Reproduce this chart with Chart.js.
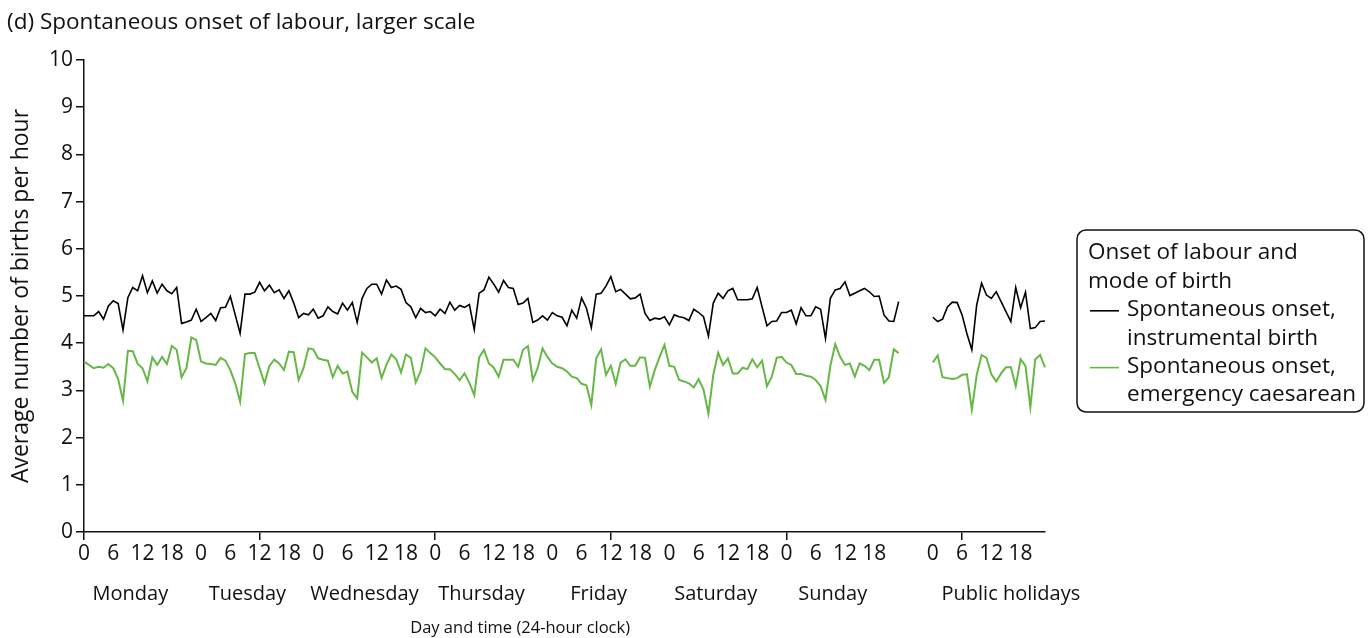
<!DOCTYPE html>
<html><head><meta charset="utf-8">
<script src="https://cdn.jsdelivr.net/npm/chart.js@4"></script>
<style>html,body{margin:0;padding:0;background:#fff}#wrap{width:1368px;height:638px;position:relative}</style>
</head><body><div id="wrap"><canvas id="c"></canvas></div>
<script>
const chartTitle = '(d) Spontaneous onset of labour, larger scale';
const yTitle = 'Average number of births per hour';
const xTitle = 'Day and time (24-hour clock)';
const dayNames = ['Monday','Tuesday','Wednesday','Thursday','Friday','Saturday','Sunday'];
const holidayName = 'Public holidays';
const legendTitle = ['Onset of labour and','mode of birth'];
const seriesNames = [['Spontaneous onset,','instrumental birth'],['Spontaneous onset,','emergency caesarean']];
const gapHours = 6;

const instrumentalMon = [4.58,4.58,4.58,4.67,4.51,4.79,4.90,4.84,4.28,4.97,5.18,5.11,5.43,5.07,5.32,5.06,5.25,5.11,5.05,5.18,4.42,4.45,4.49,4.72];
const instrumentalTue = [4.46,4.54,4.63,4.48,4.75,4.76,4.99,4.60,4.21,5.04,5.04,5.08,5.29,5.11,5.23,5.07,5.13,4.95,5.11,4.85,4.54,4.63,4.60,4.72];
const instrumentalWed = [4.53,4.58,4.77,4.67,4.62,4.85,4.70,4.86,4.44,4.95,5.16,5.25,5.25,5.04,5.34,5.18,5.21,5.14,4.86,4.77,4.54,4.74,4.65,4.67];
const instrumentalThu = [4.58,4.72,4.63,4.87,4.70,4.80,4.76,4.82,4.29,5.06,5.13,5.40,5.25,5.08,5.33,5.18,5.16,4.82,4.85,4.95,4.44,4.49,4.58,4.49];
const instrumentalFri = [4.65,4.58,4.55,4.37,4.70,4.53,4.96,4.74,4.33,5.04,5.06,5.21,5.41,5.09,5.14,5.04,4.94,4.96,5.04,4.63,4.48,4.53,4.51,4.56];
const instrumentalSat = [4.39,4.60,4.56,4.54,4.48,4.72,4.65,4.56,4.15,4.85,5.06,4.95,5.11,5.16,4.92,4.92,4.92,4.94,5.18,4.77,4.37,4.46,4.47,4.65];
const instrumentalSun = [4.65,4.70,4.41,4.75,4.58,4.58,4.77,4.72,4.10,4.95,5.13,5.16,5.30,5.01,5.06,5.11,5.16,5.09,4.99,5.00,4.60,4.47,4.46,4.88];
const instrumentalHol = [4.55,4.46,4.51,4.77,4.87,4.86,4.60,4.20,3.86,4.81,5.27,5.02,4.95,5.09,4.88,4.67,4.46,5.18,4.75,5.08,4.31,4.33,4.46,4.47];

const caesareanMon = [3.61,3.54,3.47,3.50,3.48,3.56,3.47,3.24,2.78,3.84,3.83,3.56,3.47,3.19,3.70,3.54,3.71,3.56,3.94,3.86,3.28,3.47,4.12,4.07];
const caesareanTue = [3.61,3.57,3.56,3.54,3.69,3.63,3.43,3.15,2.76,3.77,3.79,3.79,3.47,3.15,3.52,3.65,3.57,3.43,3.82,3.81,3.22,3.47,3.89,3.87];
const caesareanWed = [3.68,3.65,3.63,3.28,3.52,3.36,3.40,2.97,2.83,3.80,3.70,3.59,3.68,3.26,3.54,3.76,3.66,3.38,3.76,3.69,3.17,3.40,3.89,3.79];
const caesareanThu = [3.70,3.57,3.45,3.45,3.35,3.22,3.36,3.16,2.90,3.70,3.86,3.57,3.48,3.29,3.65,3.65,3.65,3.50,3.86,3.94,3.22,3.47,3.89,3.71];
const caesareanFri = [3.57,3.50,3.47,3.40,3.29,3.26,3.14,3.11,2.69,3.68,3.87,3.33,3.52,3.14,3.59,3.66,3.52,3.52,3.70,3.69,3.08,3.43,3.71,3.96];
const caesareanSat = [3.52,3.50,3.22,3.19,3.15,3.06,3.24,3.02,2.51,3.33,3.80,3.54,3.68,3.36,3.36,3.48,3.45,3.66,3.49,3.63,3.09,3.29,3.69,3.71];
const caesareanSun = [3.59,3.54,3.35,3.35,3.31,3.29,3.22,3.09,2.80,3.52,3.98,3.71,3.54,3.57,3.29,3.57,3.52,3.43,3.65,3.65,3.16,3.28,3.87,3.79];
const caesareanHol = [3.59,3.74,3.28,3.26,3.24,3.26,3.33,3.34,2.59,3.33,3.75,3.69,3.34,3.19,3.36,3.49,3.49,3.09,3.66,3.52,2.64,3.66,3.75,3.49];

const gapNulls = new Array(gapHours).fill(null);
const instrumental = [].concat(instrumentalMon,instrumentalTue,instrumentalWed,instrumentalThu,instrumentalFri,instrumentalSat,instrumentalSun,gapNulls,instrumentalHol);
const caesarean = [].concat(caesareanMon,caesareanTue,caesareanWed,caesareanThu,caesareanFri,caesareanSat,caesareanSun,gapNulls,caesareanHol);

const weekLen = 7*24;
const holStart = weekLen + gapHours;
const hourOf = [];
for (let i=0;i<weekLen;i++) hourOf.push(i%24);
for (let i=0;i<gapHours;i++) hourOf.push(null);
for (let i=0;i<24;i++) hourOf.push(i);
const labels = hourOf.map(h => h===null ? '' : String(h));

function tickShown(i){
  if (i===weekLen) return true;
  const h = hourOf[i];
  return h!==null && h%6===0;
}

const FONT = "'Open Sans', 'Noto Sans', sans-serif";
const GREEN = '#66b846';

const textPlugin = {
  id:'texts',
  afterDraw(chart){
    const ctx = chart.ctx, xs = chart.scales.x;
    ctx.save();
    ctx.fillStyle = '#111';
    ctx.textBaseline = 'middle';
    ctx.textAlign = 'left';
    ctx.font = '22.5px ' + FONT;
    ctx.fillText(chartTitle, 7, 23);
    ctx.textAlign = 'center';
    ctx.font = '20px ' + FONT;
    dayNames.forEach((d,k)=>{
      ctx.fillText(d, xs.getPixelForValue(k*24+9.5), 594);
    });
    ctx.fillText(holidayName, xs.getPixelForValue(holStart+16), 594);
    ctx.font = '16.5px ' + FONT;
    ctx.fillText(xTitle, xs.getPixelForValue(89.4), 628);
    // legend
    const bx=1077, by=230, bw=287, bh=182;
    ctx.beginPath();
    ctx.roundRect(bx,by,bw,bh,9);
    ctx.lineWidth=1.5; ctx.strokeStyle='#111'; ctx.stroke();
    ctx.textAlign='left';
    ctx.font = '22.5px ' + FONT;
    const lh = 28.4;
    let y = 253;
    ctx.fillText(legendTitle[0], 1088, y); y+=lh;
    ctx.fillText(legendTitle[1], 1088, y); y+=lh;
    const cols = ['#000', GREEN];
    seriesNames.forEach((s,k)=>{
      ctx.beginPath(); ctx.moveTo(1090,y+1); ctx.lineTo(1119,y+1);
      ctx.strokeStyle=cols[k]; ctx.lineWidth=1.6; ctx.stroke();
      ctx.fillText(s[0], 1127, y); y+=lh;
      ctx.fillText(s[1], 1127, y); y+=lh;
    });
    ctx.restore();
  }
};

new Chart(document.getElementById('c'), {
  type:'line',
  data:{ labels, datasets:[
    {label:'instrumental', data:instrumental, borderColor:'#000', borderWidth:1.6, pointRadius:0, tension:0, spanGaps:false},
    {label:'caesarean', data:caesarean, borderColor:GREEN, borderWidth:2, pointRadius:0, tension:0, spanGaps:false}
  ]},
  options:{
    responsive:true, maintainAspectRatio:false, animation:false,
    layout:{padding:{left:0, top:60, right:323, bottom:0}},
    plugins:{legend:{display:false}, tooltip:{enabled:false}, title:{display:false}},
    scales:{
      x:{
        type:'category', offset:false,
        afterFit(s){ s.height = 106; },
        grid:{drawOnChartArea:false, drawTicks:true, tickLength:8, lineWidth:1.5,
          color:c=> tickShown(c.index)?'#111':'rgba(0,0,0,0)',
          tickColor:c=> tickShown(c.index)?'#111':'rgba(0,0,0,0)'},
        border:{display:true, color:'#111', width:1.5},
        ticks:{autoSkip:false, maxRotation:0, minRotation:0, padding:1, color:'#111', font:{family:FONT, size:21},
          callback(v,i){ if(i===weekLen) return ''; return tickShown(i) ? labels[i] : null; }}
      },
      y:{
        min:0, max:10,
        afterFit(s){ s.width = 84; },
        grid:{drawOnChartArea:false, drawTicks:true, tickLength:8, lineWidth:1.5, color:'#111'},
        border:{display:true, color:'#111', width:1.5},
        ticks:{stepSize:1, padding:3, color:'#111', font:{family:FONT, size:21}},
        title:{display:true, text:yTitle, color:'#111', font:{family:FONT, size:23}, padding:{top:8,bottom:0}}
      }
    }
  },
  plugins:[textPlugin]
});
</script></body></html>
